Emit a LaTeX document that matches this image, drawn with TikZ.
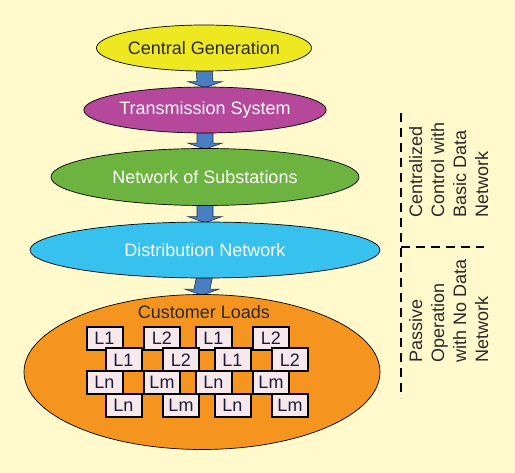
\documentclass[tikz,border=0pt]{standalone}
\usepackage{fontspec}
\setmainfont{Liberation Sans}
\usetikzlibrary{calc}
\definecolor{bgc}{HTML}{FFF9CC}
\definecolor{cyel}{HTML}{EDE81F}
\definecolor{cpur}{HTML}{B5489B}
\definecolor{cgrn}{HTML}{6DB33F}
\definecolor{ccya}{HTML}{36C1EF}
\definecolor{cora}{HTML}{F5951F}
\definecolor{carr}{HTML}{4A7EC2}
\definecolor{carrl}{HTML}{203050}
\definecolor{cbox}{HTML}{F7E8EC}
\definecolor{cboxt}{HTML}{1C1C3A}
\definecolor{ctxt}{HTML}{2A2A2A}
\pgfdeclarelayer{back}
\pgfdeclarelayer{arrows}
\pgfsetlayers{back,arrows,main}
\tikzset{
  lvl/.style={ellipse, draw=black, line width=0.7pt, inner sep=0pt,
    font=\fontsize{18}{22}\selectfont, text=white},
  loadbox/.style={draw=black, line width=2pt, fill=cbox, inner sep=0pt,
    minimum width=36pt, minimum height=23pt, text=cboxt,
    font=\fontsize{18}{22}\selectfont},
  flowarrow/.style={fill=carr, draw=carrl, line width=0.6pt, line join=miter},
  sep/.style={draw=black, line width=2pt, dash pattern=on 9pt off 6pt},
  note/.style={rotate=90, anchor=north west, align=left, inner sep=0pt,
    text=ctxt, font=\fontsize{18}{22}\selectfont}
}
\begin{document}
\begin{tikzpicture}[x=1pt,y=-1pt]
\usetikzlibrary{shapes.geometric}
\begin{pgfonlayer}{back}
\fill[bgc] (0,0) rectangle (515,473);
\end{pgfonlayer}
\useasboundingbox (0,0) rectangle (515,473);

\node[lvl, fill=cyel, text=ctxt, minimum width=166pt, minimum height=46pt] (gen) at (204,48) {Central Generation};
\node[lvl, fill=cpur, minimum width=216pt, minimum height=46pt] (trans) at (205,110) {Transmission System};
\node[lvl, fill=cgrn, minimum width=308pt, minimum height=57pt] (subs) at (205,177) {Network of Substations};
\node[lvl, fill=ccya, minimum width=350pt, minimum height=56pt] (dist) at (205,250) {Distribution Network};
\node[lvl, fill=cora, minimum width=356pt, minimum height=155pt] (cust) at (202,372) {};
\node[anchor=base, inner sep=0pt, text=ctxt, font=\fontsize{18}{22}\selectfont] (custt) at (204,319) {Customer Loads};

\begin{pgfonlayer}{arrows}
\foreach \a/\b in {gen/trans, trans/subs, subs/dist, dist/cust}{
  \path[flowarrow] ($(\a.south)+(-8,-4)$) -- ($(\b.north)+(-8,-5)$) -- ($(\b.north)+(-17,-5)$)
    -- ($(\b.north)+(0,1)$) -- ($(\b.north)+(17,-5)$) -- ($(\b.north)+(8,-5)$)
    -- ($(\a.south)+(8,-4)$) -- cycle;
}
\end{pgfonlayer}

% load boxes
\node[loadbox] (r1a) at (104.5,338.5) {L1};
\node[loadbox] (r1b) at (162,338.5) {L2};
\node[loadbox] (r1c) at (213.5,338.5) {L1};
\node[loadbox] (r1d) at (271,338.5) {L2};
\node[loadbox] (r2a) at (123.5,360) {L1};
\node[loadbox] (r2b) at (181,360) {L2};
\node[loadbox] (r2c) at (232.5,360) {L1};
\node[loadbox] (r2d) at (290,360) {L2};
\node[loadbox] (r3a) at (104.5,382.5) {Ln};
\node[loadbox] (r3b) at (162,382.5) {Lm};
\node[loadbox] (r3c) at (213.5,382.5) {Ln};
\node[loadbox] (r3d) at (271,382.5) {Lm};
\node[loadbox] (r4a) at (123.5,405.5) {Ln};
\node[loadbox] (r4b) at (181,405.5) {Lm};
\node[loadbox] (r4c) at (232.5,405.5) {Ln};
\node[loadbox] (r4d) at (290,405.5) {Lm};

% separators
\coordinate (vtop) at (400.5,113);
\coordinate (vbot) at (400.5,398);
\coordinate (hl) at (400.5,247);
\coordinate (hr) at (484,247);
\draw[sep] (vtop) -- (vbot);
\draw[sep] (hl) -- (hr);

\node[note] (cent) at (409,218) {Centralized\\Control with\\Basic Data\\Network};
\node[note] (pass) at (409,363) {Passive\\Operation\\with No Data\\Network};
\end{tikzpicture}
\end{document}
